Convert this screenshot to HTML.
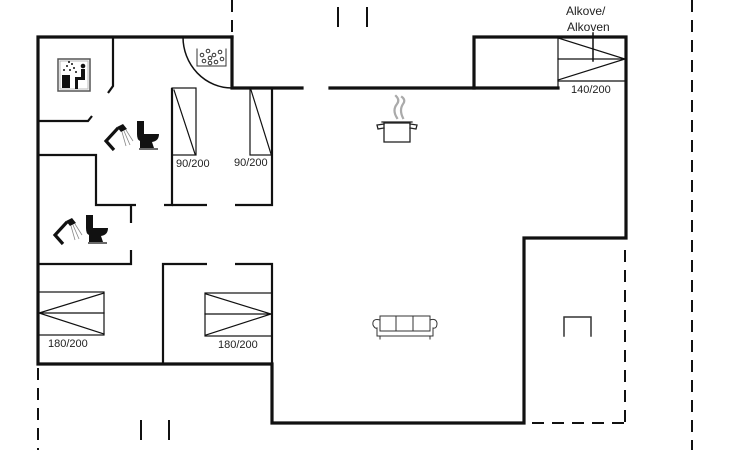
<!DOCTYPE html>
<html><head><meta charset="utf-8"><style>
html,body{margin:0;padding:0;background:#fff;}
svg{display:block;}
text{font-family:"Liberation Sans",sans-serif;fill:#222;}
</style></head><body>
<svg width="730" height="450" viewBox="0 0 730 450" xmlns="http://www.w3.org/2000/svg">
<g fill="none" stroke="#111" stroke-linecap="square">
<!-- thick outer walls -->
<g stroke-width="3.2">
<polyline points="232,37 38,37 38,364 272,364 272,423 524,423 524,238 626,238 626,37 474,37 474,88 330,88"/>
<polyline points="302,88 232,88 232,37"/>
<polyline points="474,88 558,88"/>
</g>
<!-- dashed lines -->
<g stroke-width="2" stroke-dasharray="12,8" stroke-linecap="butt">
<line x1="232" y1="0" x2="232" y2="36"/>
<line x1="692" y1="0" x2="692" y2="450"/>
<line x1="625" y1="250" x2="625" y2="423"/>
<line x1="532" y1="423" x2="625" y2="423"/>
<line x1="38" y1="368" x2="38" y2="450"/>
</g>
<g stroke-width="2" stroke-linecap="butt">
<line x1="338" y1="7" x2="338" y2="27"/><line x1="367" y1="7" x2="367" y2="27"/>
<line x1="141" y1="420" x2="141" y2="440"/><line x1="169" y1="420" x2="169" y2="440"/>
</g>
<!-- interior walls -->
<g stroke-width="2.2" stroke-linecap="butt">
<polyline points="113,37 113,86 108,93"/>
<polyline points="38,121 88,121 92,116"/>
<polyline points="38,155 96,155 96,205 136,205"/>
<line x1="131" y1="206" x2="131" y2="223"/>
<polyline points="131,250 131,264 38,264"/>
<polyline points="172,88 172,205 164,205"/>
<line x1="172" y1="205" x2="207" y2="205"/>
<polyline points="235,205 272,205 272,88"/>
<polyline points="207,264 163,264 163,364"/>
<polyline points="235,264 272,264 272,364"/>
</g>
<!-- door arc -->
<path d="M183,37 A49,51 0 0 0 232,88" stroke-width="1.5"/>
<!-- beds -->
<g stroke-width="1.2">
<rect x="172" y="88" width="24" height="67"/>
<line x1="174" y1="90" x2="195" y2="154"/>
<rect x="250" y="88" width="22" height="67"/>
<line x1="251" y1="90" x2="271" y2="154"/>
<line x1="558" y1="37" x2="558" y2="88"/>
<line x1="558" y1="59" x2="626" y2="59"/>
<line x1="558" y1="81" x2="626" y2="81"/>
<polyline points="558,38 625,59 558,80"/>
<line x1="593" y1="33" x2="593" y2="61" stroke-width="1.5"/>
<rect x="38" y="292" width="66" height="43"/>
<line x1="38" y1="313" x2="104" y2="313"/>
<polyline points="104,293 39,313 104,334"/>
<rect x="205" y="293" width="67" height="43"/>
<line x1="205" y1="314" x2="272" y2="314"/>
<polyline points="206,294 271,314 206,335"/>
</g>
<!-- right room icon -->
<polyline points="564,336 564,317 591,317 591,336" stroke-width="1.5" stroke="#333"/>
<!-- sofa -->
<g stroke-width="1" stroke="#333">
<rect x="380" y="316" width="50" height="15"/>
<line x1="396" y1="316" x2="396" y2="331"/><line x1="413" y1="316" x2="413" y2="331"/>
<path d="M380,320 Q372,318 373,325 Q375,329 377,328 L377,336 L433,336 L433,328 Q437,329 437,323 Q436,318 430,320"/>
<line x1="380" y1="336" x2="380" y2="339"/><line x1="430" y1="336" x2="430" y2="339"/>
</g>
<!-- pot -->
<g stroke="#222" stroke-width="1.3">
<rect x="384" y="123" width="26" height="19"/>
<line x1="382" y1="122" x2="412" y2="122"/>
<path d="M384,124 L377,125 L378,129 L384,128"/><path d="M410,124 L417,125 L416,129 L410,128"/>
</g>
<path d="M397,118 Q392,110 397,104 Q400,100 396,96 M403,118 Q399,110 403,104 Q406,100 402,97" stroke="#aaa" stroke-width="2.2"/>
<!-- jacuzzi -->
<g stroke="#333" stroke-width="1">
<path d="M197,49 L197,66 L226,66 L226,49"/>
<circle cx="202" cy="55" r="1.8"/><circle cx="208" cy="51" r="1.8"/><circle cx="214" cy="55" r="1.8"/><circle cx="220" cy="52" r="1.8"/>
<circle cx="204" cy="61" r="1.8"/><circle cx="210" cy="58" r="1.8"/><circle cx="216" cy="62" r="1.8"/><circle cx="222" cy="59" r="1.8"/><circle cx="210" cy="63" r="1.8"/>
</g>
<!-- sauna -->
<rect x="58" y="59" width="32" height="32" stroke="#555" stroke-width="1.5"/>
<rect x="60" y="61" width="28" height="28" stroke="#bbb" stroke-width="1"/>
</g>
<g fill="#111">
<rect x="62" y="75" width="8" height="13"/>
<circle cx="83" cy="66" r="2.3"/>
<path d="M81,69 L85,69 L85,80 L78,80 L78,89 L75,89 L75,77 L81,77Z"/>
<circle cx="64" cy="70" r="1"/><circle cx="67" cy="66" r="1"/><circle cx="70" cy="70" r="1"/><circle cx="72" cy="64" r="1"/><circle cx="74" cy="68" r="1"/><circle cx="69" cy="62" r="1"/><circle cx="76" cy="72" r="1"/>
</g>
<!-- shower + toilet icons -->
<g id="wc">
<path d="M114,150 L106,141 L118,128" fill="none" stroke="#111" stroke-width="3.2"/>
<path d="M117,127 L123,124 L127,129 L121,132Z" fill="#111"/>
<g stroke="#888" stroke-width="0.8"><line x1="124" y1="131" x2="130" y2="145"/><line x1="122" y1="132" x2="126" y2="146"/><line x1="126" y1="130" x2="133" y2="141"/></g>
<path d="M137,121 L144,121 L144,134 L159,134 Q159,141 152,142 L154,148 L140,148 L140,141 Q137,140 137,134Z" fill="#111"/>
<line x1="139" y1="149" x2="158" y2="149" stroke="#111" stroke-width="1.2"/>
</g>
<use href="#wc" transform="translate(-51,94)"/>
<!-- labels -->
<text x="176" y="167" font-size="11">90/200</text>
<text x="234" y="166" font-size="11">90/200</text>
<text x="48" y="347" font-size="11">180/200</text>
<text x="218" y="348" font-size="11">180/200</text>
<text x="571" y="93" font-size="11">140/200</text>
<text x="566" y="15" font-size="12">Alkove/</text>
<text x="567" y="31" font-size="12">Alkoven</text>
</svg>
</body></html>
